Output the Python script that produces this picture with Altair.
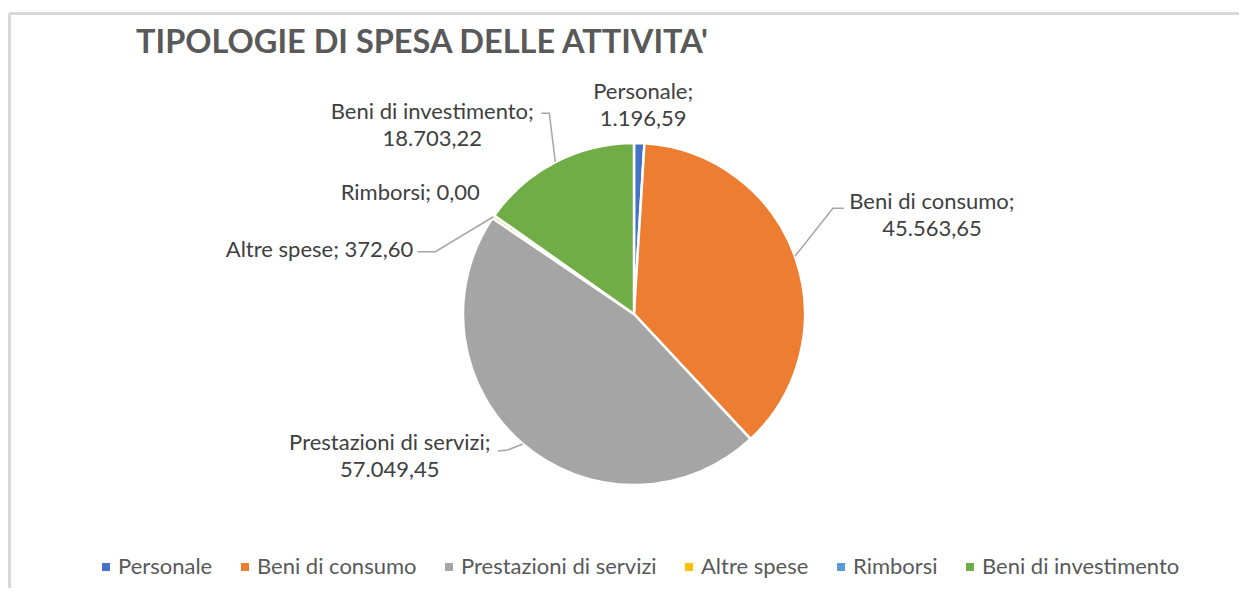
import math
import altair as alt
import pandas as pd

# ---------------- data ----------------
categories = ["Personale", "Beni di consumo", "Prestazioni di servizi",
              "Altre spese", "Rimborsi", "Beni di investimento"]
values = [1196.59, 45563.65, 57049.45, 372.60, 0.00, 18703.22]
colors = ["#4472C4", "#ED7D31", "#A5A5A5", "#FFC000", "#5B9BD5", "#70AD47"]
two_line = [True, True, True, False, False, True]
title_text = "TIPOLOGIE DI SPESA DELLE ATTIVITA'"


def it_fmt(v):
    s = f"{v:,.2f}"
    return s.replace(",", "X").replace(".", ",").replace("X", ".")


# ---------------- layout / style ----------------
W, H = 1180, 520
PAD = {"left": 36, "top": 46, "right": 15, "bottom": 14}
R = 171
FONT = "Lato"
FS = 22
LH = 27

# label anchor offset from each slice's outer mid-point (px), and alignment
label_style = {
    "Personale": (4, -38, "center"),
    "Beni di consumo": (137, -41, "center"),
    "Prestazioni di servizi": (-133, 13, "center"),
    "Altre spese": (-80, 33, "right"),
    "Rimborsi": (-84, -22, "center"),
    "Beni di investimento": (-123, -37, "center"),
}
# leader line elbow / end offsets from the outer mid-point (px)
leader_style = {
    "Beni di consumo": [(38, -48), (49, -48)],
    "Prestazioni di servizi": [(-15, 6), (-25, 7)],
    "Altre spese": [(-58, 35), (-76, 35)],
    "Beni di investimento": [(-6, -49), (-14, -49)],
}

# ---------------- derived tables ----------------
total = sum(values)
arc_rows, lab_rows, lead_rows = [], [], []
cum = 0.0
for i, (c, v) in enumerate(zip(categories, values)):
    mid = (cum + v / 2) / total * 2 * math.pi
    cum += v
    ex, ey = R * math.sin(mid), -R * math.cos(mid)
    arc_rows.append({"idx": i, "category": c, "value": v})
    txt = f"{c};\n{it_fmt(v)}" if two_line[i] else f"{c}; {it_fmt(v)}"
    dx, dy, al = label_style[c]
    if two_line[i]:
        dy -= LH / 2
    lab_rows.append({"category": c, "label": txt, "x": ex + dx, "y": ey + dy, "align": al})
    if c in leader_style:
        pts = [(ex, ey)] + [(ex + a, ey + b) for a, b in leader_style[c]]
        for k, (px, py) in enumerate(pts):
            lead_rows.append({"category": c, "k": k, "x": px, "y": py})

arc_df = pd.DataFrame(arc_rows)
lab_df = pd.DataFrame(lab_rows)
lead_df = pd.DataFrame(lead_rows)

xs = alt.Scale(domain=[-W / 2, W / 2], nice=False, zero=False)
ys = alt.Scale(domain=[H / 2, -H / 2], nice=False, zero=False)

pie = alt.Chart(arc_df).mark_arc(outerRadius=R, stroke="white", strokeWidth=2.5).encode(
    theta=alt.Theta("value:Q", stack=True),
    order=alt.Order("idx:Q"),
    color=alt.Color(
        "category:N",
        scale=alt.Scale(domain=categories, range=colors),
        sort=categories,
        legend=alt.Legend(
            title=None, orient="none", legendX=51, legendY=502,
            direction="horizontal", columns=6, symbolType="square",
            symbolSize=64, symbolStrokeWidth=0, labelFont=FONT,
            labelFontSize=FS, labelColor="#595959", columnPadding=21,
            labelOffset=1, padding=0, labelLimit=0,
        ),
    ),
)

leaders = alt.Chart(lead_df).mark_line(color="#A6A6A6", strokeWidth=1.5).encode(
    x=alt.X("x:Q", scale=xs, axis=None),
    y=alt.Y("y:Q", scale=ys, axis=None),
    detail="category:N",
    order="k:Q",
)


def text_layer(align):
    return alt.Chart(lab_df).transform_filter(
        alt.datum.align == align
    ).mark_text(
        align=align, baseline="middle", lineBreak="\n", lineHeight=LH,
        font=FONT, fontSize=FS, color="#404040",
    ).encode(
        x=alt.X("x:Q", scale=xs, axis=None),
        y=alt.Y("y:Q", scale=ys, axis=None),
        text="label:N",
    )


title = alt.Chart(arc_df.head(1)).mark_text(
    align="left", baseline="alphabetic", font=FONT, fontSize=32.5,
    fontWeight="bold", color="#595959",
).encode(x=alt.value(92), y=alt.value(-1.5), text=alt.value(title_text))

frame_top = alt.Chart(arc_df).mark_rule(color="#D9D9D9", strokeWidth=2.5).encode(
    x=alt.value(-34.3), x2=alt.value(W + 40), y=alt.value(-40.3)
)
frame_left = alt.Chart(arc_df).mark_rule(color="#D9D9D9", strokeWidth=2.5).encode(
    x=alt.value(-34.3), y=alt.value(-40.3), y2=alt.value(H + 40)
)

chart = alt.layer(
    frame_top, frame_left, title, pie, leaders, text_layer("center"), text_layer("right")
).properties(
    width=W, height=H,
    padding=PAD,
    autosize=alt.AutoSizeParams(type="none"),
).configure_view(stroke=None)

chart.save("out.html", embed_options={"renderer": "svg", "actions": False})
